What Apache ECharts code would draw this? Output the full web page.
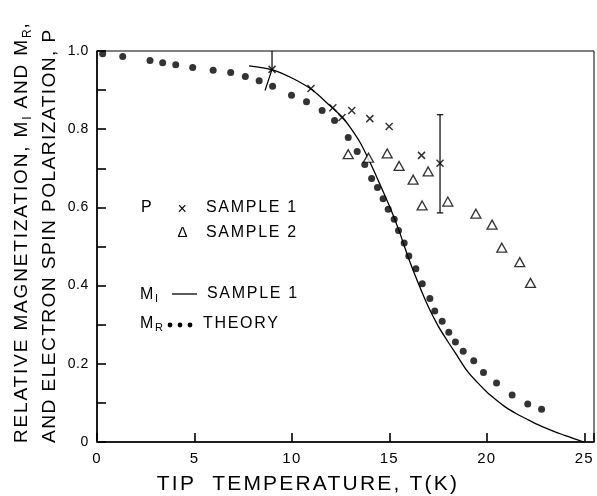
<!DOCTYPE html>
<html><head><meta charset="utf-8">
<script src="https://cdn.jsdelivr.net/npm/echarts@6/dist/echarts.min.js"></script>
<style>html,body{margin:0;padding:0;background:#fff}#c{width:597px;height:496px}</style>
</head><body><div id="c"></div>
<script>
// ---- data ----
var theoryT = [0.29,1.32,2.72,3.37,4.04,4.91,5.96,6.86,7.61,8.32,9.01,9.98,10.75,11.55,12.19,12.89,13.35,13.74,14.09,14.39,14.68,14.94,15.25,15.47,15.76,16.0,16.36,16.69,17.08,17.33,17.71,18.05,18.39,18.79,19.33,19.83,20.5,21.3,22.1,22.81];
var theoryM = [0.993,0.986,0.976,0.970,0.965,0.958,0.951,0.945,0.935,0.924,0.910,0.887,0.870,0.848,0.822,0.779,0.743,0.710,0.674,0.651,0.622,0.595,0.570,0.541,0.509,0.476,0.443,0.405,0.367,0.335,0.309,0.281,0.256,0.232,0.208,0.178,0.151,0.120,0.097,0.084];
var sample1T = [8.98,10.98,12.1,12.57,13.07,14.0,14.99,16.65,17.6];
var sample1P = [0.953,0.904,0.855,0.830,0.848,0.827,0.807,0.733,0.713];
var sample2T = [12.89,13.93,14.89,15.5,16.22,16.99,16.68,18.0,19.44,20.27,20.77,21.69,22.24];
var sample2P = [0.736,0.727,0.738,0.706,0.671,0.692,0.605,0.615,0.584,0.556,0.497,0.460,0.407];
var miT = [7.8,9.0,10.0,11.0,12.0,12.6,13.0,13.5,14.0,14.5,15.0,15.5,16.0,16.5,17.0,17.5,18.0,18.5,19.0,19.5,20.0,20.5,21.0,21.5,22.0,22.5,23.0,23.5,24.0,24.5,25.0];
var miM = [0.962,0.952,0.931,0.902,0.858,0.830,0.804,0.766,0.716,0.661,0.604,0.540,0.468,0.404,0.346,0.297,0.257,0.219,0.181,0.153,0.128,0.107,0.088,0.073,0.060,0.047,0.036,0.026,0.017,0.008,0.0];
var errT = [17.6];
var errLow = [0.586];
var errHigh = [0.837];
var bar9T = [8.98,8.98,8.62];
var bar9M = [1.0,0.953,0.899];
var xTicks = [0,5,10,15,20,25];
var yTickLabels = ['0','0.2','0.4','0.6','0.8','1.0'];

// letter spacing keyed by font size (drafting-style lettering)
var SPACING = {'14':0.6,'15':1.2,'16':1.7,'19':1.85,'19.2':1.4,'21':2.2,'11':0.8,'12':0.8};
(function(){
  var proto = CanvasRenderingContext2D.prototype;
  var desc = Object.getOwnPropertyDescriptor(proto, 'font');
  if (!desc || !('letterSpacing' in proto)) return;
  Object.defineProperty(proto, 'font', {
    configurable: true, enumerable: desc.enumerable,
    get: function(){ return desc.get.call(this); },
    set: function(v){
      desc.set.call(this, v);
      var m = /(\d+(?:\.\d+)?)px/.exec(v);
      var s = m ? SPACING[m[1]] : 0;
      this.letterSpacing = (s || 0) + 'px';
    }
  });
})();

function zip(a,b){ return a.map(function(v,i){ return [v,b[i]]; }); }
var FF = '"Liberation Sans", Arial, sans-serif';
var chart = echarts.init(document.getElementById('c'), null, {renderer:'canvas'});
chart.setOption({
  animation:false,
  backgroundColor:'#fff',
  grid:{left:97, right:3, top:51, bottom:54, show:true, borderColor:'#000', borderWidth:1},
  xAxis:{type:'value', min:0, max:25.5, interval:5,
    axisLine:{lineStyle:{color:'#000', width:1.6}},
    axisTick:{inside:true, length:9, lineStyle:{color:'#000', width:1.6}},
    splitLine:{show:false},
    axisLabel:{color:'#000', fontSize:15, fontFamily:FF, margin:9,
      formatter:function(v){ return xTicks.indexOf(v) >= 0 ? String(v) : ''; }}
  },
  yAxis:{type:'value', min:0, max:1, interval:0.1,
    axisLine:{lineStyle:{color:'#000', width:1.6}},
    axisTick:{inside:true, length:9, lineStyle:{color:'#000', width:1.6}},
    splitLine:{show:false},
    axisLabel:{color:'#000', fontSize:14, fontFamily:FF, margin:8,
      formatter:function(v){ var r=Math.round(v*10); return r%2===0 ? yTickLabels[r/2] : ''; }}
  },
  series:[
    {name:'M_I sample 1', type:'line', data:zip(miT,miM), smooth:0.3, showSymbol:false,
      lineStyle:{color:'#000', width:1.3}, z:2},
    {name:'Theory', type:'scatter', data:zip(theoryT,theoryM), symbol:'circle', symbolSize:7,
      itemStyle:{color:'#000'}, z:3},
    {name:'Sample 1', type:'scatter', data:zip(sample1T,sample1P),
      symbol:'path://M0,0L10,10M0,10L10,0', symbolSize:7,
      itemStyle:{color:'rgba(0,0,0,0)', borderColor:'#000', borderWidth:1.5}, z:4},
    {name:'Sample 2', type:'scatter', data:zip(sample2T,sample2P),
      symbol:'triangle', symbolSize:[10,9],
      itemStyle:{color:'#fff', borderColor:'#000', borderWidth:1.3}, z:4},
    {name:'bar9', type:'line', data:zip(bar9T,bar9M), showSymbol:false,
      lineStyle:{color:'#000', width:1.2}, z:2},
    {name:'err', type:'custom', data:errT.map(function(t,i){ return [t, errLow[i], errHigh[i]]; }),
      encode:{x:0, y:[1,2]},
      renderItem:function(params, api){
        var hi = api.coord([api.value(0), api.value(2)]);
        var lo = api.coord([api.value(0), api.value(1)]);
        var w = 3.2, st = {stroke:'#000', lineWidth:1.2};
        return {type:'group', children:[
          {type:'line', shape:{x1:hi[0], y1:hi[1], x2:lo[0], y2:lo[1]}, style:st},
          {type:'line', shape:{x1:hi[0]-w, y1:hi[1], x2:hi[0]+w, y2:hi[1]}, style:st},
          {type:'line', shape:{x1:lo[0]-w, y1:lo[1], x2:lo[0]+w, y2:lo[1]}, style:st}
        ]};
      }, z:2}
  ],
  graphic:[
    {type:'text', x:22, y:443, rotation:Math.PI/2,
      style:{text:'{m|RELATIVE MAGNETIZATION, M}{s|I}{m| AND M}{s|R}{m|,}', align:'left', verticalAlign:'middle',
        rich:{m:{fontSize:19, fontFamily:FF, fill:'#000', lineHeight:24, verticalAlign:'middle'},
              s:{fontSize:12, fontFamily:FF, fill:'#000', lineHeight:13, verticalAlign:'bottom'}}}},
    {type:'text', x:50, y:443, rotation:Math.PI/2,
      style:{text:'AND ELECTRON SPIN POLARIZATION, P', align:'left', verticalAlign:'middle',
        font:'19.2px ' + FF, fill:'#000'}},
    {type:'text', x:308, y:484,
      style:{text:'TIP  TEMPERATURE, T(K)', align:'center', verticalAlign:'middle', font:'21px ' + FF, fill:'#000'}},
    // in-plot key
    {type:'text', x:141, y:208, style:{text:'P', font:'16px ' + FF, fill:'#000', verticalAlign:'middle'}},
    {type:'text', x:183, y:210, style:{text:'×', font:'16px ' + FF, fill:'#000', align:'center', verticalAlign:'middle'}},
    {type:'text', x:206, y:208, style:{text:'SAMPLE 1', font:'16px ' + FF, fill:'#000', verticalAlign:'middle'}},
    {type:'text', x:183, y:233, style:{text:'Δ', font:'15px ' + FF, fill:'#000', align:'center', verticalAlign:'middle'}},
    {type:'text', x:206, y:233, style:{text:'SAMPLE 2', font:'16px ' + FF, fill:'#000', verticalAlign:'middle'}},
    {type:'text', x:140, y:295,
      style:{text:'{m|M}{s|I}', verticalAlign:'middle',
        rich:{m:{fontSize:16, fontFamily:FF, fill:'#000', lineHeight:20, verticalAlign:'middle'},
              s:{fontSize:11, fontFamily:FF, fill:'#000', lineHeight:12, verticalAlign:'bottom'}}}},
    {type:'line', shape:{x1:172, y1:294, x2:197, y2:294}, style:{stroke:'#000', lineWidth:1.3}},
    {type:'text', x:207, y:294, style:{text:'SAMPLE 1', font:'16px ' + FF, fill:'#000', verticalAlign:'middle'}},
    {type:'text', x:140, y:324,
      style:{text:'{m|M}{s|R}', verticalAlign:'middle',
        rich:{m:{fontSize:16, fontFamily:FF, fill:'#000', lineHeight:20, verticalAlign:'middle'},
              s:{fontSize:11, fontFamily:FF, fill:'#000', lineHeight:12, verticalAlign:'bottom'}}}},
    {type:'circle', shape:{cx:170, cy:325, r:2.4}, style:{fill:'#000'}},
    {type:'circle', shape:{cx:180, cy:325, r:2.4}, style:{fill:'#000'}},
    {type:'circle', shape:{cx:190, cy:325, r:2.4}, style:{fill:'#000'}},
    {type:'text', x:203, y:324, style:{text:'THEORY', font:'16px ' + FF, fill:'#000', verticalAlign:'middle'}}
  ]
});
</script>
</body></html>
